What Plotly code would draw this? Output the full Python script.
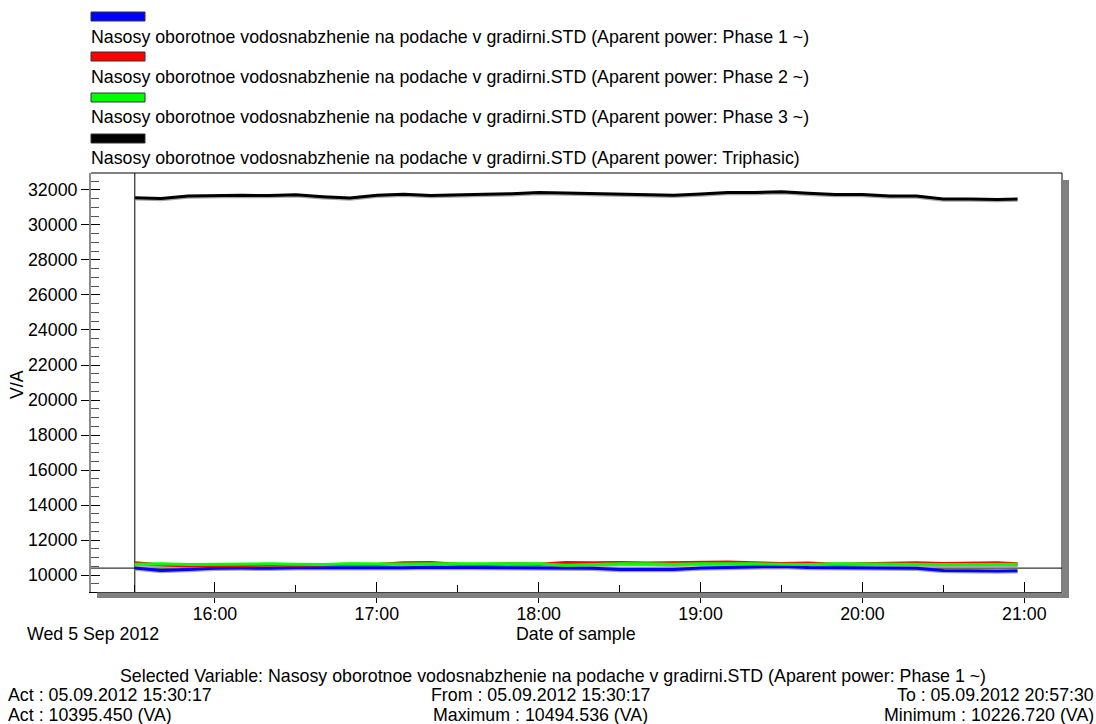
import plotly.graph_objects as go

# ---------------- data ----------------
times = [
    "2012-09-05 15:30:17", "2012-09-05 15:40:00", "2012-09-05 15:50:00", "2012-09-05 16:00:00",
    "2012-09-05 16:10:00", "2012-09-05 16:20:00", "2012-09-05 16:30:00", "2012-09-05 16:40:00",
    "2012-09-05 16:50:00", "2012-09-05 17:00:00", "2012-09-05 17:10:00", "2012-09-05 17:20:00",
    "2012-09-05 17:30:00", "2012-09-05 17:40:00", "2012-09-05 17:50:00", "2012-09-05 18:00:00",
    "2012-09-05 18:10:00", "2012-09-05 18:20:00", "2012-09-05 18:30:00", "2012-09-05 18:40:00",
    "2012-09-05 18:50:00", "2012-09-05 19:00:00", "2012-09-05 19:10:00", "2012-09-05 19:20:00",
    "2012-09-05 19:30:00", "2012-09-05 19:40:00", "2012-09-05 19:50:00", "2012-09-05 20:00:00",
    "2012-09-05 20:10:00", "2012-09-05 20:20:00", "2012-09-05 20:30:00", "2012-09-05 20:40:00",
    "2012-09-05 20:50:00", "2012-09-05 20:57:30",
]

phase1 = [10395, 10260, 10320, 10390, 10400, 10380, 10410, 10400, 10390, 10420, 10410, 10440,
          10430, 10420, 10400, 10420, 10410, 10380, 10320, 10300, 10310, 10400, 10440, 10450,
          10494, 10430, 10420, 10440, 10400, 10380, 10260, 10240, 10227, 10250]
phase2 = [10700, 10580, 10520, 10560, 10540, 10580, 10560, 10600, 10620, 10600, 10700, 10720,
          10620, 10600, 10640, 10610, 10720, 10700, 10720, 10680, 10700, 10700, 10740, 10700,
          10660, 10690, 10620, 10640, 10660, 10700, 10660, 10680, 10700, 10650]
phase3 = [10620, 10640, 10600, 10620, 10610, 10640, 10620, 10600, 10640, 10620, 10630, 10640,
          10640, 10650, 10660, 10640, 10560, 10620, 10640, 10640, 10620, 10650, 10660, 10640,
          10620, 10600, 10640, 10630, 10580, 10600, 10600, 10600, 10610, 10620]
triphasic = [31560, 31520, 31660, 31690, 31700, 31680, 31730, 31620, 31540, 31700, 31750, 31680,
             31700, 31750, 31790, 31850, 31830, 31800, 31770, 31740, 31700, 31770, 31850, 31850,
             31900, 31810, 31740, 31740, 31660, 31660, 31490, 31490, 31450, 31490]

series_names = [
    "Nasosy oborotnoe vodosnabzhenie na podache v gradirni.STD (Aparent power: Phase 1 ~)",
    "Nasosy oborotnoe vodosnabzhenie na podache v gradirni.STD (Aparent power: Phase 2 ~)",
    "Nasosy oborotnoe vodosnabzhenie na podache v gradirni.STD (Aparent power: Phase 3 ~)",
    "Nasosy oborotnoe vodosnabzhenie na podache v gradirni.STD (Aparent power: Triphasic)",
]
series_values = [phase1, phase2, phase3, triphasic]
series_colors = ["#0000ff", "#ff0000", "#00ff00", "#000000"]

cursor_time = "2012-09-05 15:30:17"
cursor_value = 10395.450
x_range = ["2012-09-05 15:14:03", "2012-09-05 21:13:58"]
y_range = [9030, 32970]

info_lines = {
    "selected": "Selected Variable: Nasosy oborotnoe vodosnabzhenie na podache v gradirni.STD (Aparent power: Phase 1 ~)",
    "act_time": "Act : 05.09.2012 15:30:17",
    "act_val": "Act : 10395.450 (VA)",
    "from": "From : 05.09.2012 15:30:17",
    "max": "Maximum : 10494.536 (VA)",
    "to": "To : 05.09.2012 20:57:30",
    "min": "Minimum : 10226.720 (VA)",
}

# ---------------- layout helpers ----------------
W, H = 1096, 724
L, R, T, B = 91, 1062, 173, 592
PW, PH = R - L, B - T


def px(x):
    return (x - L) / PW


def py(y):
    return (B - y) / PH


FONT = "Liberation Sans, Arial, sans-serif"
FS = 17.8

fig = go.Figure()

# shadows
shadow_offset = 100
for vals in series_values:
    fig.add_trace(go.Scatter(
        x=times, y=[v - shadow_offset for v in vals], mode="lines",
        line=dict(color="#a8a8a8", width=2), showlegend=False, hoverinfo="skip"))

for name, vals, col in zip(series_names, series_values, series_colors):
    fig.add_trace(go.Scatter(
        x=times, y=vals, mode="lines", name=name,
        line=dict(color=col, width=3), showlegend=False))

# empty trace for overlay axes (inside major ticks)
fig.add_trace(go.Scatter(x=[], y=[], xaxis="x2", yaxis="y2", showlegend=False, hoverinfo="skip"))

shapes = []
annotations = []

# cursor lines
shapes.append(dict(type="line", xref="x", yref="paper", x0=cursor_time, x1=cursor_time, y0=0, y1=1,
                   line=dict(color="black", width=1), layer="below"))
shapes.append(dict(type="line", xref="paper", yref="y", x0=0, x1=1, y0=cursor_value, y1=cursor_value,
                   line=dict(color="black", width=1), layer="below"))

# frame: top & right black, shadows
shapes.append(dict(type="line", xref="paper", yref="paper", x0=0, x1=1, y0=1, y1=1,
                   line=dict(color="black", width=1)))
shapes.append(dict(type="line", xref="paper", yref="paper", x0=1, x1=1, y0=0, y1=1,
                   line=dict(color="black", width=1)))
shapes.append(dict(type="rect", xref="paper", yref="paper", x0=1 + 0.5 / PW, x1=1 + 7 / PW,
                   y0=-6 / PH, y1=1 - 7 / PH, fillcolor="#808080", line=dict(width=0)))
shapes.append(dict(type="rect", xref="paper", yref="paper", x0=6 / PW, x1=1 + 7 / PW,
                   y0=-6 / PH, y1=-0.5 / PH, fillcolor="#808080", line=dict(width=0)))

# legend (swatch above text)
legend_swatch_top = [12, 52, 93, 134]
legend_text_y = [37, 77, 117, 158]
for name, col, sy, ty in zip(series_names, series_colors, legend_swatch_top, legend_text_y):
    shapes.append(dict(type="rect", xref="paper", yref="paper", x0=px(91), x1=px(145),
                       y0=py(sy + 9), y1=py(sy), fillcolor=col, line=dict(color="#333333", width=1)))
    annotations.append(dict(text=name, xref="paper", yref="paper", x=px(89), y=py(ty),
                            xanchor="left", yanchor="middle", showarrow=False,
                            font=dict(family=FONT, size=FS, color="black")))

# axis texts
annotations.append(dict(text="V/A", xref="paper", yref="paper", x=px(17), y=py(385), textangle=-90,
                        xanchor="center", yanchor="middle", showarrow=False,
                        font=dict(family=FONT, size=FS, color="black")))
annotations.append(dict(text="Date of sample", xref="paper", yref="paper", x=px(576), y=py(634),
                        xanchor="center", yanchor="middle", showarrow=False,
                        font=dict(family=FONT, size=FS, color="black")))
annotations.append(dict(text="Wed 5 Sep 2012", xref="paper", yref="paper", x=px(25), y=py(634),
                        xanchor="left", yanchor="middle", showarrow=False,
                        font=dict(family=FONT, size=FS, color="black")))

# info block
def info(text, x, y, anchor):
    annotations.append(dict(text=text, xref="paper", yref="paper", x=px(x), y=py(y),
                            xanchor=anchor, yanchor="middle", showarrow=False,
                            font=dict(family=FONT, size=FS, color="black")))

info(info_lines["selected"], 553, 676, "center")
info(info_lines["act_time"], 6, 695, "left")
info(info_lines["act_val"], 6, 715, "left")
info(info_lines["from"], 540, 695, "center")
info(info_lines["max"], 540, 715, "center")
info(info_lines["to"], 1096, 695, "right")
info(info_lines["min"], 1096, 715, "right")

fig.update_layout(
    width=W, height=H,
    margin=dict(l=L, r=W - R, t=T, b=H - B, pad=0),
    paper_bgcolor="white", plot_bgcolor="white",
    showlegend=False,
    font=dict(family=FONT, size=FS, color="black"),
    xaxis=dict(
        type="date", range=x_range, showgrid=False, zeroline=False,
        showline=True, linecolor="black", linewidth=1,
        ticks="outside", ticklen=10, tickcolor="black", tickwidth=1,
        dtick=3600000, tickformat="%H:%M", ticklabelstandoff=-4,
        tickfont=dict(family=FONT, size=FS, color="black"),
        minor=dict(ticks="inside", ticklen=7, dtick=1800000, tickcolor="black", showgrid=False),
    ),
    xaxis2=dict(
        type="date", range=x_range, overlaying="x", anchor="y", side="bottom",
        showgrid=False, zeroline=False, showline=False, showticklabels=False,
        ticks="inside", ticklen=10, tickcolor="black", dtick=3600000,
    ),
    yaxis=dict(
        range=y_range, showgrid=False, zeroline=False,
        showline=True, linecolor="#8c8c8c", linewidth=2,
        ticks="outside", ticklen=8, tickcolor="black", tickwidth=1,
        dtick=2000, tick0=0, tickformat="d",
        tickfont=dict(family=FONT, size=FS, color="black"),
        minor=dict(ticks="inside", ticklen=8, dtick=500, tickcolor="#555555", showgrid=False),
    ),
    yaxis2=dict(
        range=y_range, overlaying="y", anchor="x", side="left",
        showgrid=False, zeroline=False, showline=False, showticklabels=False,
        ticks="inside", ticklen=9, tickcolor="black", dtick=2000, tick0=0,
    ),
    shapes=shapes,
    annotations=annotations,
)

fig.write_html("out.html")
